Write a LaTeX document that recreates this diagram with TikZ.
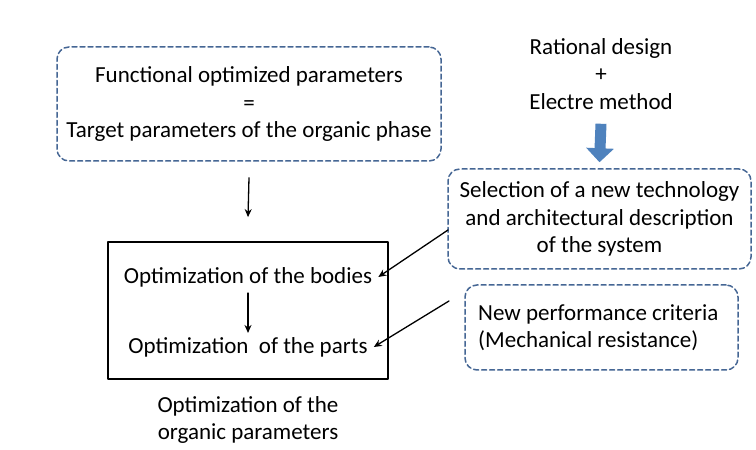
\documentclass[tikz,border=0pt]{standalone}
\usepackage{fontspec}
\setmainfont{Carlito}
\usetikzlibrary{arrows,arrows.meta}
\definecolor{dashblue}{rgb}{0.27,0.40,0.58}
\definecolor{arrowblue}{rgb}{0.31,0.51,0.74}

\begin{document}
\begin{tikzpicture}[line cap=round,line join=round,>={Stealth[length=8pt,width=7pt]},x=1pt,y=1pt,
  txt/.style={font=\fontsize{23}{27.5}\selectfont,align=center,inner sep=0pt},
  dashbox/.style={draw=dashblue,line width=1.5pt,dash pattern=on 5pt off 3pt,rounded corners=12pt,inner sep=0pt}]
\useasboundingbox (0,0) rectangle (756,450);
\fill[white] (0,0) rectangle (756,450);

% upper left box
\node[dashbox,minimum width=384,minimum height=114] (fopbox) at (249,346) {};
\node[txt] (fop) at (249,346) {Functional optimized parameters\\=\\Target parameters of the organic phase};

% method
\node[txt] (rat) at (601,376) {Rational design\\+\\Electre method};

% selection box
\node[dashbox,minimum width=303,minimum height=100] (sel) at (599.5,231) {};
\node[txt] (seltxt) at (599.5,231) {Selection of a new technology\\and architectural description\\of the system};

% criteria box
\node[dashbox,minimum width=273,minimum height=85] (crit) at (601.5,122.5) {};
\node[txt,align=left,anchor=west] (crittxt) at (478,122.5) {New performance criteria\\(Mechanical resistance)};

% optimization box
\node[draw,line width=1.8pt,minimum width=280,minimum height=137,inner sep=0pt] (opt) at (248,139.5) {};
\node[txt] (bod) at (248,173) {Optimization of the bodies};
\node[txt] (par) at (248,103) {Optimization~ of the parts};
\node[txt] (orgp) at (248,30) {Optimization of the\\organic parameters};

\coordinate (c1) at (448,220);
\coordinate (c2) at (449,149);

\draw[arrowblue,line width=11pt,line cap=butt,-{Triangle[width=27pt,length=14pt]}] ([yshift=-14pt]rat.south) -- ([yshift=6pt]sel.north);
\draw[->,line width=1.3pt] ([yshift=-16pt]fopbox.south) -- ([yshift=24pt]opt.north);
\draw[->,line width=1.3pt] ([yshift=-6pt]bod.south) -- ([yshift=4pt]par.north);
\draw[->,line width=1.3pt] (c1) -- ([xshift=6pt]bod.east);
\draw[->,line width=1.3pt] (c2) -- ([xshift=6pt]par.east);

\end{tikzpicture}
\end{document}
